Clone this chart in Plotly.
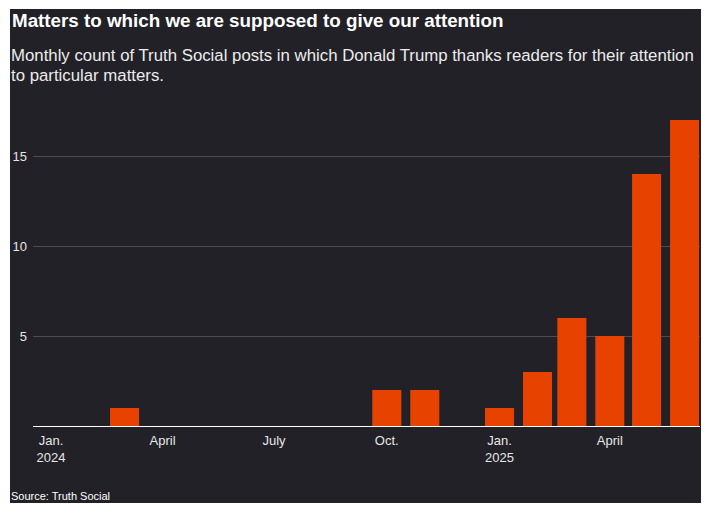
import plotly.graph_objects as go
import pandas as pd

# ---- data ----
months = ["2024-01-01", "2024-02-01", "2024-03-01", "2024-04-01", "2024-05-01", "2024-06-01",
          "2024-07-01", "2024-08-01", "2024-09-01", "2024-10-01", "2024-11-01", "2024-12-01",
          "2025-01-01", "2025-02-01", "2025-03-01", "2025-04-01", "2025-05-01", "2025-06-01"]
counts = [0, 0, 1, 0, 0, 0, 0, 0, 0, 2, 2, 0, 1, 3, 6, 5, 14, 17]
tick_months = ["2024-01-01", "2024-04-01", "2024-07-01", "2024-10-01", "2025-01-01", "2025-04-01"]
tick_labels = ["Jan.<br>2024", "April", "July", "Oct.", "Jan.<br>2025", "April"]
y_ticks = [5, 10, 15]

title = "Matters to which we are supposed to give our attention"
sub1 = "Monthly count of Truth Social posts in which Donald Trump thanks readers for their attention"
sub2 = "to particular matters."
source = "Source: Truth Social"

# ---- layout constants ----
W, H = 712, 513
L, R, T, B = 33, 12, 120, 87
PW, PH = W - L - R, H - T - B
BG = "#222127"
BAR = "#e84200"
FONT = "Liberation Sans, Arial, sans-serif"
BAR_DAYS = 23.7
DAY_MS = 86400000


def px(x):
    return (x - L) / PW


def py(y):
    return (H - B - y) / PH


tickvals = [(pd.Timestamp(m) + pd.Timedelta(days=BAR_DAYS / 2)).strftime("%Y-%m-%d %H:%M:%S") for m in tick_months]

fig = go.Figure()
fig.add_trace(go.Bar(
    x=months, y=counts,
    width=BAR_DAYS * DAY_MS, offset=0,
    marker=dict(color=BAR, line=dict(width=0)),
    hoverinfo="x+y",
))

fig.update_layout(
    width=W, height=H,
    margin=dict(l=L, r=R, t=T, b=B, pad=0),
    paper_bgcolor="white",
    plot_bgcolor="rgba(0,0,0,0)",
    showlegend=False,
    font=dict(family=FONT, color="white"),
    xaxis=dict(
        type="date",
        range=["2023-12-29 03:25:00", "2025-06-25 10:30:00"],
        tickmode="array", tickvals=tickvals, ticktext=tick_labels,
        showgrid=False, zeroline=False,
        showline=True, linecolor="white", linewidth=1,
        ticks="", tickfont=dict(size=13, color="#e6e6e6"),
        ticklabelstandoff=2,
        fixedrange=True,
    ),
    yaxis=dict(
        range=[0, 17],
        tickmode="array", tickvals=y_ticks,
        showgrid=True, gridcolor="#4d4c52", gridwidth=1,
        zeroline=False, showline=False,
        ticks="", tickfont=dict(size=13, color="#e6e6e6"),
        ticklabelstandoff=5,
        fixedrange=True,
    ),
    shapes=[dict(
        type="rect", xref="paper", yref="paper",
        x0=px(10), x1=px(701), y0=py(503), y1=py(9),
        fillcolor=BG, line=dict(width=0), layer="below",
    )],
    annotations=[
        dict(text="<b>" + title + "</b>", xref="paper", yref="paper", x=px(10), y=py(20),
             xanchor="left", yanchor="middle", showarrow=False,
             font=dict(size=18.8, color="white", family=FONT)),
        dict(text=sub1, xref="paper", yref="paper", x=px(9), y=py(55.5),
             xanchor="left", yanchor="middle", showarrow=False,
             font=dict(size=16.8, color="#ececec", family=FONT)),
        dict(text=sub2, xref="paper", yref="paper", x=px(9), y=py(75.5),
             xanchor="left", yanchor="middle", showarrow=False,
             font=dict(size=16.8, color="#ececec", family=FONT)),
        dict(text=source, xref="paper", yref="paper", x=px(9), y=py(496),
             xanchor="left", yanchor="middle", showarrow=False,
             font=dict(size=11, color="white", family=FONT)),
    ],
)

fig.write_html("out.html")
